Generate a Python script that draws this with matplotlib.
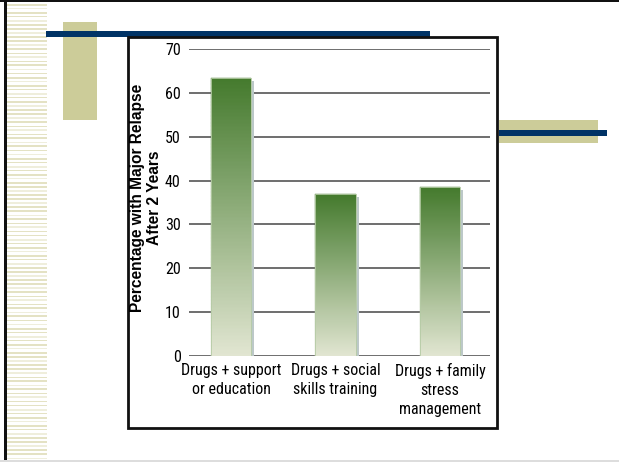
import numpy as np
import matplotlib
matplotlib.use("Agg")
import matplotlib.pyplot as plt
from matplotlib.patches import Rectangle
from matplotlib import font_manager

categories = ["Drugs + support\nor education", "Drugs + social\nskills training", "Drugs + family\nstress\nmanagement"]
values = [63.5, 37, 38.5]
yticks = [0, 10, 20, 30, 40, 50, 60, 70]
ylabel = "Percentage with Major Relapse\nAfter 2 Years"

W, H = 619, 462
fig = plt.figure(figsize=(W / 100, H / 100), dpi=100)

names = {f.name for f in font_manager.fontManager.ttflist}
narrow = "Liberation Sans"
for cand in ["Liberation Sans Narrow", "Nimbus Sans Narrow", "Arial Narrow",
             "Roboto Condensed", "Archivo Narrow"]:
    if cand in names:
        narrow = cand
        break
boldfont = "Liberation Sans"

def px(x0, y0, x1, y1, **kw):
    r = Rectangle((x0 / W, 1 - y1 / H), (x1 - x0) / W, (y1 - y0) / H,
                  transform=fig.transFigure, **kw)
    fig.add_artist(r)
    return r

# slide decorations
y = 4.0
i = 0
while y < 458:
    c = "#e4e2c4" if i % 3 != 1 else "#efeedc"
    px(6, y, 47, y + 1.6, facecolor=c, edgecolor="none", zorder=0)
    y += 3.7 if i % 2 == 0 else 4.4
    i += 1
px(0, 0, W, 2.2, facecolor="#111111", edgecolor="none", zorder=5)
px(3.5, 0, 6.5, H, facecolor="#111111", edgecolor="none", zorder=5)
px(0, 459.5, W, H, facecolor="#dddddd", edgecolor="none", zorder=5)
px(63, 22, 97, 120, facecolor="#cccc99", edgecolor="none", zorder=1)
px(46, 31, 430, 37, facecolor="#003366", edgecolor="none", zorder=2)
px(499, 120, 598, 143, facecolor="#cccc99", edgecolor="none", zorder=1)
px(499, 130, 607, 136, facecolor="#003366", edgecolor="none", zorder=2)
px(128, 37, 497, 428, facecolor="white", edgecolor="#111111", linewidth=2, zorder=3)

ax = fig.add_axes([189 / W, (H - 356) / H, (490 - 189) / W, (356 - 49) / H], zorder=4)
ax.patch.set_alpha(0)
for s in ax.spines.values():
    s.set_visible(False)
ax.set_ylim(0, 70)
ax.set_xlim(-0.402, 2.478)
ax.set_yticks(yticks)
for t in yticks:
    ax.axhline(t, color="#555555", lw=1.2, zorder=1)
ax.tick_params(axis="y", length=0, pad=6, labelsize=11.5)
ax.tick_params(axis="x", length=0, pad=5, labelsize=11.5)
for lab in ax.get_yticklabels():
    lab.set_fontfamily(narrow)
x = np.arange(len(values))
ax.set_xticks(x)
ax.set_xticklabels(categories, fontfamily=narrow, linespacing=1.32)

bw = 0.385
top = np.array(matplotlib.colors.to_rgb("#447a2d"))
bot = np.array(matplotlib.colors.to_rgb("#e2e6d2"))
nseg = 80
for xi, v in zip(x, values):
    ax.bar(xi + 0.03, v - 0.7, width=bw, color="#bcc8c8", zorder=2, linewidth=0)
    edges = np.linspace(0, v, nseg + 1)
    for k in range(nseg):
        f = (k + 0.5) / nseg
        c = bot * (1 - f) + top * f
        ax.bar(xi, edges[k + 1] - edges[k], bottom=edges[k], width=bw,
               color=c, linewidth=0.3, edgecolor=c, zorder=3)
    ax.add_patch(Rectangle((xi - bw / 2, 0), bw, v, facecolor="none",
                           edgecolor="#b5cba5", lw=0.6, zorder=3.5))

fig.text(146 / W, 1 - 198 / H, ylabel, rotation=90, ha="center", va="center",
         fontsize=11.2, fontweight="bold", family=boldfont, linespacing=1.12, zorder=6)

fig.savefig("out.png", dpi=100)
